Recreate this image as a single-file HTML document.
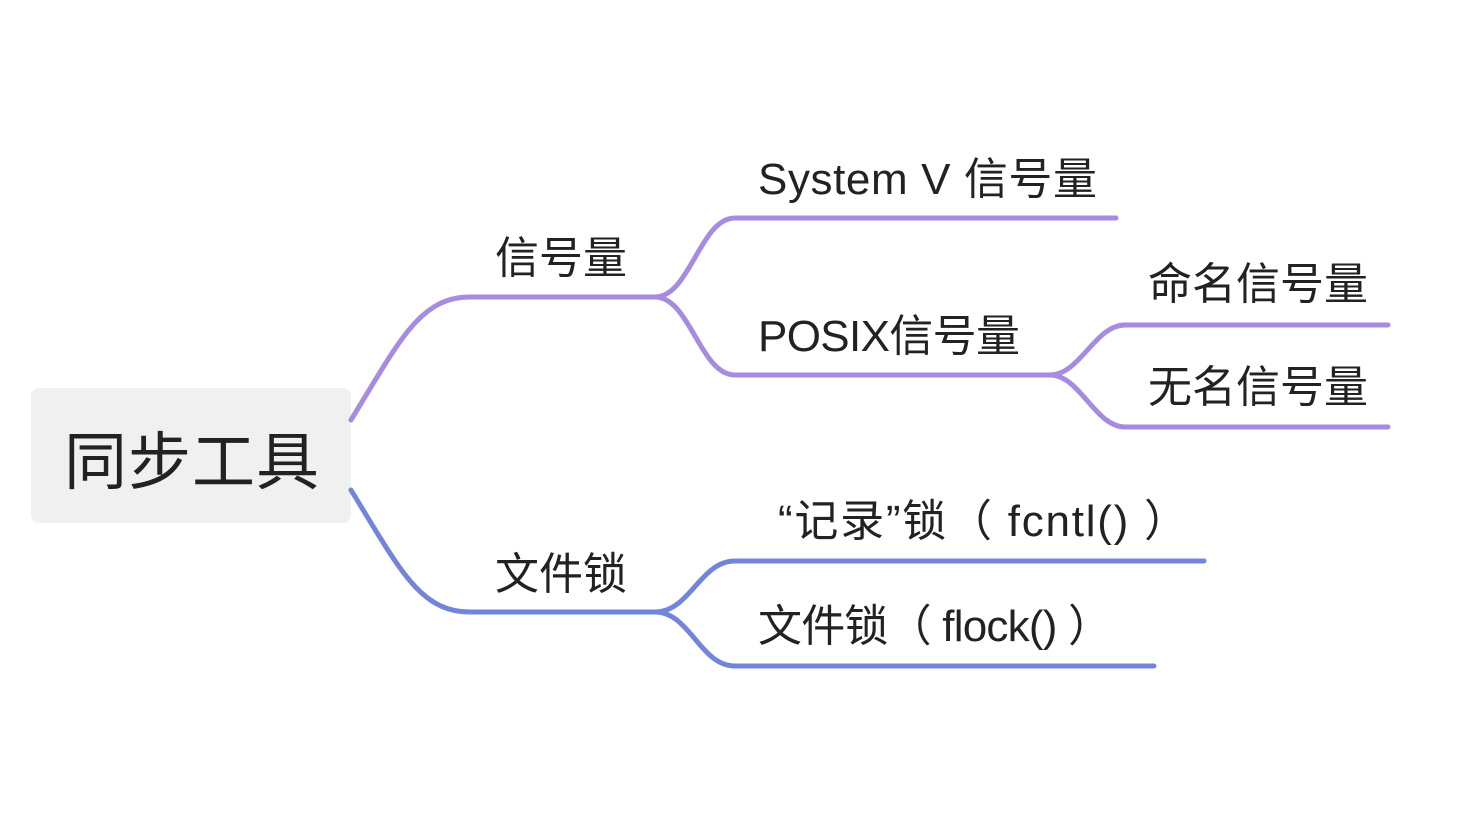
<!DOCTYPE html>
<html><head><meta charset="utf-8"><style>
html,body{margin:0;padding:0;background:#fff;width:1481px;height:837px;overflow:hidden}
svg text{font-family:"Liberation Sans","Noto Sans CJK SC",sans-serif;fill:#222}
</style></head><body>
<svg width="1481" height="837" viewBox="0 0 1481 837" xmlns="http://www.w3.org/2000/svg">
<rect x="31" y="388" width="320" height="135" rx="8" fill="#eff0ef"/>
<g fill="none" stroke-width="5" stroke-linecap="round">
<g stroke="#a68be0">
<path d="M351 420 C400 340 420 297 470 297 L655 297"/>
<path d="M655 297 C690 297 700 218 735 218 L1116 218"/>
<path d="M655 297 C690 297 700 375 735 375 L1050 375"/>
<path d="M1050 375 C1080 375 1095 325 1125 325 L1388 325"/>
<path d="M1050 375 C1080 375 1095 427 1125 427 L1388 427"/>
</g>
<g stroke="#7385db">
<path d="M351 490 C400 570 420 612 470 612 L655 612"/>
<path d="M655 612 C690 612 700 561 735 561 L1204 561"/>
<path d="M655 612 C690 612 700 666 735 666 L1154 666"/>
</g>
</g>
<text x="64" y="484" font-size="63" textLength="255">同步工具</text>
<text x="495" y="273" font-size="44">信号量</text>
<text x="495" y="589" font-size="44">文件锁</text>
<text x="758" y="194" font-size="44" textLength="339">System V 信号量</text>
<text x="758" y="351" font-size="44" textLength="262">POSIX信号量</text>
<text x="1148" y="299" font-size="44">命名信号量</text>
<text x="1148" y="402" font-size="44">无名信号量</text>
<text x="778" y="536" font-size="44" textLength="410">“记录”锁（ fcntl() ）</text>
<text x="758" y="641" font-size="44" textLength="354">文件锁（ flock() ）</text>
</svg>
</body></html>
